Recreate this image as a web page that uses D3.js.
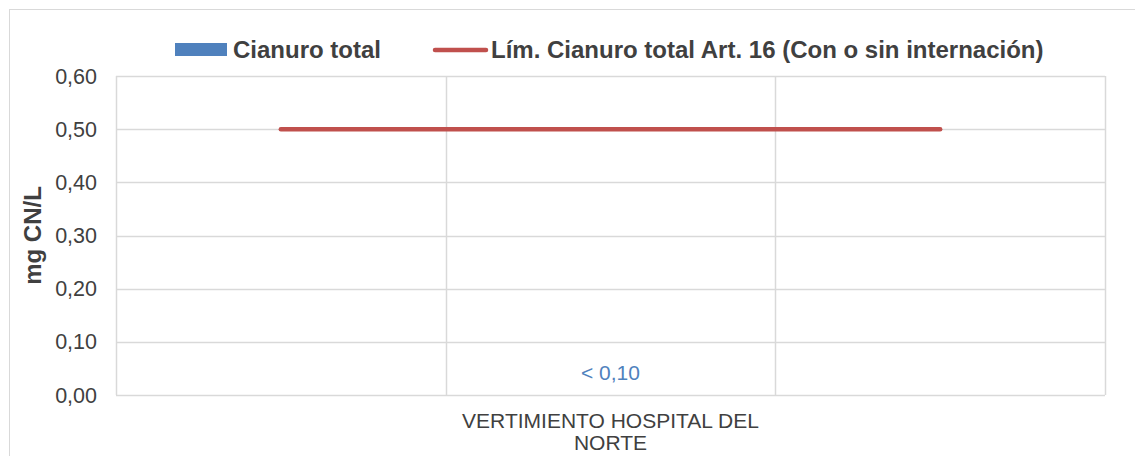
<!DOCTYPE html>
<html>
<head>
<meta charset="utf-8">
<script src="https://cdn.jsdelivr.net/npm/d3@7"></script>
<style>
  body { margin: 0; background: #fff; }
  text { font-family: "Liberation Sans", Arial, sans-serif; fill: #404040; }
</style>
</head>
<body>
<div id="chart"></div>
<script>
// categories (first and last are empty slots in the original sheet)
var categories = ["", "VERTIMIENTO HOSPITAL DEL NORTE", ""];
var cianuroTotal = [null, 0, null];
var cianuroLabels = [null, "< 0,10", null];
var limite = [0.5, 0.5, 0.5];
var yTicks = [0, 0.1, 0.2, 0.3, 0.4, 0.5, 0.6];

var W = 1135, H = 456;
var margin = { top: 76, right: 30, bottom: 61, left: 116 };

var svg = d3.select("#chart").append("svg").attr("width", W).attr("height", H);

svg.append("rect")
  .attr("x", 9.5).attr("y", 9.5).attr("width", W - 9).attr("height", H)
  .attr("fill", "#fff").attr("stroke", "#d9d9d9");

var x = d3.scaleBand().domain(d3.range(categories.length))
  .range([margin.left, W - margin.right]).padding(0);
var y = d3.scaleLinear().domain([0, 0.6]).range([H - margin.bottom, margin.top]);

// horizontal gridlines
svg.append("g").selectAll("line").data(yTicks).enter().append("line")
  .attr("x1", margin.left).attr("x2", W - margin.right)
  .attr("y1", d => Math.round(y(d)) + 0.5).attr("y2", d => Math.round(y(d)) + 0.5)
  .attr("stroke", "#d9d9d9").attr("stroke-width", 1.5);

// vertical gridlines at category boundaries
var bounds = d3.range(categories.length + 1).map(i => i < categories.length ? x(i) : x(i - 1) + x.bandwidth());
svg.append("g").selectAll("line").data(bounds).enter().append("line")
  .attr("x1", d => Math.round(d) + 0.5).attr("x2", d => Math.round(d) + 0.5)
  .attr("y1", margin.top).attr("y2", H - margin.bottom)
  .attr("stroke", "#d9d9d9").attr("stroke-width", 1.5);

// y axis labels
svg.append("g").selectAll("text").data(yTicks).enter().append("text")
  .attr("x", 97).attr("y", d => y(d)).attr("dy", "0.35em")
  .attr("text-anchor", "end").style("font-size", "21.5px")
  .text(d => d3.format(".2f")(d).replace(".", ","));

svg.append("text")
  .attr("transform", "translate(41," + ((margin.top + H - margin.bottom) / 2) + ") rotate(-90)")
  .attr("text-anchor", "middle").style("font-size", "24px").style("font-weight", "bold")
  .text("mg CN/L");

// x category labels (wrapped)
categories.forEach(function (c, i) {
  if (!c) return;
  var lines = ["VERTIMIENTO HOSPITAL DEL", "NORTE"];
  var t = svg.append("text").attr("text-anchor", "middle").style("font-size", "21px");
  lines.forEach(function (l, k) {
    t.append("tspan").attr("x", x(i) + x.bandwidth() / 2).attr("y", 428 + k * 22).text(l);
  });
});

// bars (value 0 → invisible) and labels
cianuroTotal.forEach(function (v, i) {
  if (v === null) return;
  var bw = x.bandwidth() * 0.4;
  svg.append("rect").attr("x", x(i) + (x.bandwidth() - bw) / 2).attr("width", bw)
    .attr("y", y(v)).attr("height", y(0) - y(v)).attr("fill", "#4f81bd");
  svg.append("text").attr("x", x(i) + x.bandwidth() / 2).attr("y", y(v) - 15)
    .attr("text-anchor", "middle").style("font-size", "21px").style("fill", "#4f81bd")
    .text(cianuroLabels[i]);
});

// limit line
var line = d3.line().x((d, i) => x(i) + x.bandwidth() / 2).y(d => y(d));
svg.append("path").datum(limite).attr("d", line)
  .attr("fill", "none").attr("stroke", "#c0504d").attr("stroke-width", 4.5)
  .attr("stroke-linecap", "round");

// legend
var lg = svg.append("g");
lg.append("rect").attr("x", 175).attr("y", 43).attr("width", 52).attr("height", 13).attr("fill", "#4f81bd");
lg.append("text").attr("x", 233).attr("y", 58).style("font-size", "24px").style("font-weight", "bold")
  .text("Cianuro total");
lg.append("line").attr("x1", 435).attr("x2", 486).attr("y1", 50).attr("y2", 50)
  .attr("stroke", "#c0504d").attr("stroke-width", 4.5).attr("stroke-linecap", "round");
lg.append("text").attr("x", 491).attr("y", 58).style("font-size", "24px").style("font-weight", "bold")
  .text("Lím. Cianuro total Art. 16 (Con o sin internación)");
</script>
</body>
</html>
